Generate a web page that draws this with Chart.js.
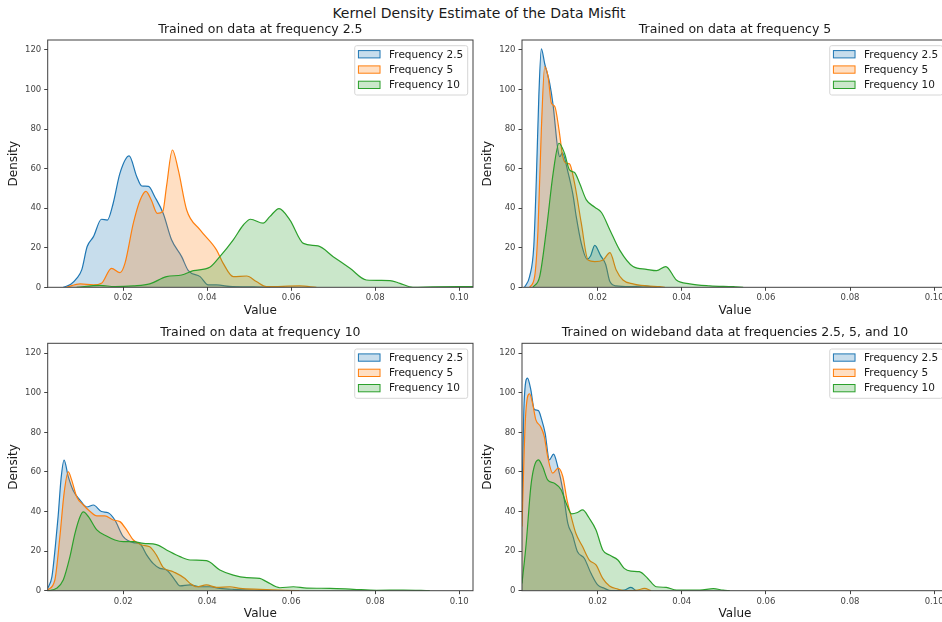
<!DOCTYPE html>
<html>
<head>
<meta charset="utf-8">
<script src="https://cdn.jsdelivr.net/npm/chart.js@4.4.1/dist/chart.umd.min.js"></script>
<style>
  html, body { margin: 0; padding: 0; background: #fff; overflow: hidden; width: 942px; height: 622px; }
  #suptitle { position: absolute; left: 0; top: 4.5px; width: 958px; text-align: center;
    font: 14px/16px "DejaVu Sans", sans-serif; color: #1a1a1a; }
  canvas { position: absolute; }
</style>
</head>
<body>
<div id="suptitle">Kernel Density Estimate of the Data Misfit</div>
<canvas id="c1" width="479" height="300" style="left:0;top:20px"></canvas>
<canvas id="c2" width="479" height="300" style="left:479px;top:20px"></canvas>
<canvas id="c3" width="479" height="299" style="left:0;top:323px"></canvas>
<canvas id="c4" width="479" height="299" style="left:479px;top:323px"></canvas>
<script>
// series labels and tick values
const seriesLabels = ['Frequency 2.5', 'Frequency 5', 'Frequency 10'];
const xTicks = [0.02, 0.04, 0.06, 0.08, 0.10];
const yTicks = [0, 20, 40, 60, 80, 100, 120];

// panel 1: trained on 2.5
const p1X25 = [0.0057, 0.0075, 0.0089, 0.0101, 0.0114, 0.0129, 0.0148, 0.0162, 0.0176, 0.0192, 0.0214, 0.0232, 0.0244, 0.026, 0.0275, 0.0295, 0.0315, 0.0339, 0.0355, 0.0383, 0.0402, 0.0422, 0.046, 0.051, 0.055];
const p1Y25 = [0, 1.5, 4.5, 8.8, 20.6, 25.6, 34.4, 34, 42.5, 57.6, 66.4, 56, 51.2, 51, 45.8, 37.4, 24, 15.5, 8.4, 5.4, 1.2, 1.2, 0.3, 0.2, 0];
const p1X5 = [0.0065, 0.0097, 0.0129, 0.0148, 0.0172, 0.0192, 0.0204, 0.0224, 0.024, 0.0254, 0.0267, 0.0281, 0.0294, 0.0303, 0.0317, 0.0331, 0.0351, 0.0383, 0.0422, 0.0438, 0.0462, 0.0494, 0.0517, 0.0541, 0.062, 0.066];
const p1Y5 = [0, 1.7, 1.2, 2, 9.6, 7.4, 12.1, 32.4, 44, 48.5, 44, 37.4, 38.3, 51, 69.4, 59.3, 39.1, 29, 18.9, 12.1, 5.4, 5.7, 2.9, 0.3, 0.7, 0];
const p1X10 = [0.0089, 0.0144, 0.018, 0.0224, 0.0263, 0.0303, 0.0339, 0.0367, 0.0406, 0.043, 0.0462, 0.0486, 0.0503, 0.0533, 0.0549, 0.0571, 0.0597, 0.0629, 0.0664, 0.07, 0.074, 0.0779, 0.0835, 0.0859, 0.089, 0.0938, 0.1, 0.1033];
const p1Y10 = [0, 1, 0.3, 0.7, 1.7, 5.4, 6.2, 8.4, 10.1, 15.5, 24, 31.5, 34.4, 32.4, 35.7, 39.8, 34, 22.2, 20.9, 15.5, 9.6, 3.7, 3.4, 2, 0, 0.2, 0.3, 0.3];

// panel 2: trained on 5
const p2X25 = [0.0026, 0.0038, 0.0048, 0.0054, 0.006, 0.0066, 0.0074, 0.0086, 0.0094, 0.0105, 0.011, 0.0116, 0.0129, 0.0141, 0.0149, 0.0161, 0.0175, 0.0183, 0.0193, 0.0207, 0.0219, 0.0229, 0.0244, 0.0276, 0.0308, 0.034];
const p2Y25 = [0, 5.4, 20.6, 54, 96.4, 120.5, 113, 103, 92, 70, 66, 68, 58.5, 47, 35.7, 22.2, 14.2, 15.8, 21.2, 16, 11.5, 2.9, 0.7, 0.3, 0.7, 0];
const p2X5 = [0.0038, 0.005, 0.0058, 0.0066, 0.0074, 0.0082, 0.009, 0.0098, 0.0108, 0.0117, 0.0125, 0.0133, 0.0145, 0.0161, 0.0177, 0.0193, 0.0213, 0.0229, 0.0244, 0.026, 0.0284, 0.0316, 0.0348, 0.036];
const p2Y5 = [0, 5.4, 29, 79.6, 111.6, 106.5, 93, 91.4, 79.6, 66, 62.7, 62.4, 52.6, 32.4, 13.8, 13, 13.8, 17.5, 8.8, 3.7, 1.7, 0.7, 0.3, 0];
const p2X10 = [0.0046, 0.0062, 0.0078, 0.0094, 0.0108, 0.0121, 0.0133, 0.0145, 0.0157, 0.0173, 0.0193, 0.0209, 0.0229, 0.0252, 0.0284, 0.0316, 0.034, 0.0362, 0.0387, 0.0419, 0.0467, 0.0522, 0.0546];
const p2Y10 = [0, 5.4, 29, 57.6, 72.8, 67.8, 59.3, 58, 52.6, 44.2, 40.5, 37.8, 29, 18.9, 10.5, 9.1, 8.4, 10.5, 3.7, 1.7, 0.7, 0.3, 0];

// panel 3: trained on 10
const p3X25 = [0.002, 0.003, 0.0038, 0.0045, 0.0052, 0.0059, 0.0069, 0.0081, 0.0097, 0.0113, 0.0129, 0.0148, 0.0164, 0.018, 0.02, 0.0224, 0.024, 0.0256, 0.0271, 0.0287, 0.0303, 0.0323, 0.0335, 0.0359, 0.0383, 0.0406, 0.043, 0.0462, 0.0525, 0.055];
const p3Y25 = [1.2, 7, 22, 38, 57, 66, 57.6, 50.5, 45.8, 42.3, 43.3, 40, 39.4, 35.7, 27.3, 24.3, 23.6, 18, 13.8, 11.3, 10.5, 5.4, 2.4, 2.9, 2, 2, 1.2, 0.7, 0.2, 0];
const p3X5 = [0.002, 0.0037, 0.0049, 0.0059, 0.0069, 0.0077, 0.0089, 0.0105, 0.0121, 0.0137, 0.0156, 0.0176, 0.0192, 0.0208, 0.0224, 0.0244, 0.0263, 0.0279, 0.0295, 0.0319, 0.0347, 0.0359, 0.0375, 0.0398, 0.0422, 0.0454, 0.0478, 0.0525, 0.0589, 0.062];
const p3Y5 = [0.3, 5.4, 27.3, 49.2, 60, 56, 47.5, 43.3, 40, 37.8, 37.8, 35.7, 34.9, 30.7, 25.6, 23.1, 22.2, 18, 11.8, 9.6, 6.2, 3.7, 2, 2.9, 1.7, 2, 1.2, 0.7, 0.2, 0];
const p3X10 = [0.002, 0.0041, 0.0057, 0.0073, 0.0085, 0.0097, 0.0105, 0.0117, 0.0137, 0.016, 0.018, 0.02, 0.0224, 0.0248, 0.0279, 0.0303, 0.0335, 0.0359, 0.0398, 0.043, 0.0462, 0.0494, 0.0525, 0.0541, 0.0573, 0.0605, 0.0637, 0.0692, 0.0748, 0.0803, 0.0867, 0.093];
const p3Y10 = [0, 1.2, 5.4, 17.2, 29, 37.4, 39.8, 37.4, 30.7, 27.6, 25.6, 24.8, 24.8, 23.9, 23.3, 20.6, 17.2, 15.5, 15.2, 10.5, 7.9, 6.6, 6.2, 4.6, 1.5, 2, 1.3, 1.2, 0.7, 0.2, 0.3, 0];

// panel 4: trained on wideband
const p4X25 = [0.002, 0.0025, 0.0033, 0.0041, 0.0049, 0.0059, 0.0067, 0.0075, 0.0085, 0.0095, 0.0105, 0.0117, 0.0129, 0.014, 0.0152, 0.0168, 0.0184, 0.02, 0.0216, 0.0232, 0.0263, 0.0279, 0.0291];
const p4Y25 = [45, 94.8, 107.4, 101.5, 91.7, 91, 86.3, 79.6, 66.1, 69, 62.7, 51, 34, 28.2, 19.7, 16.4, 8.8, 2.9, 1.2, 0, 0.3, 1.7, 0];
const p4X5 = [0.002, 0.0028, 0.0038, 0.0045, 0.0053, 0.0064, 0.0073, 0.0081, 0.0093, 0.0106, 0.0117, 0.0127, 0.0137, 0.0148, 0.0164, 0.018, 0.0196, 0.0212, 0.0228, 0.0248, 0.0263, 0.0295, 0.0311, 0.0327];
const p4Y5 = [32.4, 86.3, 99.5, 94.8, 86.3, 83, 77.9, 67.8, 59.4, 61.9, 57.7, 45.9, 37.4, 29, 22.3, 15.5, 13, 6.2, 2.4, 0.8, 0, 0.3, 1.2, 0];
const p4X10 = [0.002, 0.003, 0.0041, 0.0049, 0.0059, 0.0069, 0.0081, 0.0097, 0.0113, 0.0125, 0.0138, 0.0152, 0.0164, 0.018, 0.0196, 0.0212, 0.0228, 0.0248, 0.0263, 0.0279, 0.0299, 0.0319, 0.0339, 0.0363, 0.0387, 0.0443, 0.0475, 0.0498, 0.0514];
const p4Y10 = [3.7, 24, 52.6, 62.7, 66.1, 62.7, 56, 54.3, 51, 44.2, 38.8, 39.5, 40.8, 36.6, 30.7, 20.6, 18, 15.5, 11.3, 9.9, 9.6, 6.2, 2, 1.7, 0.3, 0.3, 1, 0.3, 0];

const colors = ['#1f77b4', '#ff7f0e', '#2ca02c'];
const fills = ['rgba(31,119,180,0.25)', 'rgba(255,127,14,0.25)', 'rgba(44,160,44,0.25)'];

Chart.defaults.font.family = '"DejaVu Sans", sans-serif';

// spines on all four sides + legend box inside the axes
const framePlugin = {
  id: 'frame',
  afterDatasetsDraw(chart) {
    const {ctx, chartArea: a} = chart;
    ctx.save();
    ctx.strokeStyle = '#404040';
    ctx.lineWidth = 1;
    ctx.strokeRect(a.left, a.top, a.right - a.left, a.bottom - a.top);
    ctx.restore();
  },
  afterDraw(chart) {
    const {ctx, chartArea: a} = chart;
    ctx.save();
    ctx.font = '10.5px "DejaVu Sans"';
    let tw = 0;
    seriesLabels.forEach(l => { tw = Math.max(tw, ctx.measureText(l).width); });
    const w = 34.3 + tw + 4.4, h = 49.3;
    const x = a.right - 5.3 - w, y = a.top + 5.7;
    ctx.beginPath();
    ctx.roundRect(x, y, w, h, 2);
    ctx.fillStyle = 'rgba(255,255,255,0.8)';
    ctx.fill();
    ctx.strokeStyle = '#d6d6d6';
    ctx.lineWidth = 1;
    ctx.stroke();
    seriesLabels.forEach((l, i) => {
      const cy = y + 8.6 + i * 15.3;
      ctx.fillStyle = fills[i];
      ctx.fillRect(x + 3.7, cy - 3.7, 21.6, 7.3);
      ctx.strokeStyle = colors[i];
      ctx.strokeRect(x + 3.7, cy - 3.7, 21.6, 7.3);
      ctx.fillStyle = '#1a1a1a';
      ctx.textBaseline = 'middle';
      ctx.fillText(l, x + 34.3, cy + 0.5);
    });
    ctx.restore();
  }
};

function makePanel(id, title, xs, ys, right, bottomRow) {
  const datasets = xs.map((xArr, i) => ({
    label: seriesLabels[i],
    data: xArr.map((x, j) => ({x: x, y: ys[i][j]})),
    borderColor: colors[i],
    backgroundColor: fills[i],
    borderWidth: 1.2,
    fill: 'origin',
    pointRadius: 0,
    cubicInterpolationMode: 'monotone',
    order: 3 - i
  }));
  const yAxisW = right ? 43 : 47.7;
  return new Chart(document.getElementById(id), {
    type: 'line',
    data: {datasets: datasets},
    plugins: [framePlugin],
    options: {
      responsive: false,
      animation: false,
      layout: {padding: {left: 0, right: right ? 10 : 6, top: 0, bottom: 0}},
      plugins: {
        legend: {display: false},
        tooltip: {enabled: false},
        title: {
          display: true, text: title, fullSize: false, color: '#1a1a1a',
          font: {size: 12.5, weight: 'normal'},
          padding: {top: 2.2, bottom: bottomRow ? 3.1 : 2.8}
        }
      },
      scales: {
        x: {
          type: 'linear', min: 0.002, max: 0.1033,
          afterBuildTicks: s => { s.ticks = xTicks.map(v => ({value: v})); },
          afterFit: s => { s.height = bottomRow ? 31.3 : 32.7; },
          ticks: {autoSkip: false, maxRotation: 0, padding: 2, color: '#444',
            font: {size: 8.5}, callback: v => v.toFixed(2)},
          grid: {drawOnChartArea: false, drawTicks: true, tickLength: 3.5, color: '#444'},
          border: {display: false},
          title: {display: true, text: 'Value', color: '#1a1a1a', font: {size: 12},
            padding: {top: 0, bottom: bottomRow ? 0.5 : 1.8}}
        },
        y: {
          min: 0, max: 125,
          afterBuildTicks: s => { s.ticks = yTicks.map(v => ({value: v})); },
          afterFit: s => { s.width = yAxisW; },
          ticks: {padding: 3, color: '#444', font: {size: 8.5}},
          grid: {drawOnChartArea: false, drawTicks: true, tickLength: 3.5, color: '#444'},
          border: {display: false},
          title: {display: true, text: 'Density', color: '#1a1a1a', font: {size: 12},
            padding: {top: right ? 2.1 : 7.1, bottom: 0}}
        }
      }
    }
  });
}

makePanel('c1', 'Trained on data at frequency 2.5', [p1X25, p1X5, p1X10], [p1Y25, p1Y5, p1Y10], false, false);
makePanel('c2', 'Trained on data at frequency 5', [p2X25, p2X5, p2X10], [p2Y25, p2Y5, p2Y10], true, false);
makePanel('c3', 'Trained on data at frequency 10', [p3X25, p3X5, p3X10], [p3Y25, p3Y5, p3Y10], false, true);
makePanel('c4', 'Trained on wideband data at frequencies 2.5, 5, and 10', [p4X25, p4X5, p4X10], [p4Y25, p4Y5, p4Y10], true, true);
</script>
</body>
</html>
